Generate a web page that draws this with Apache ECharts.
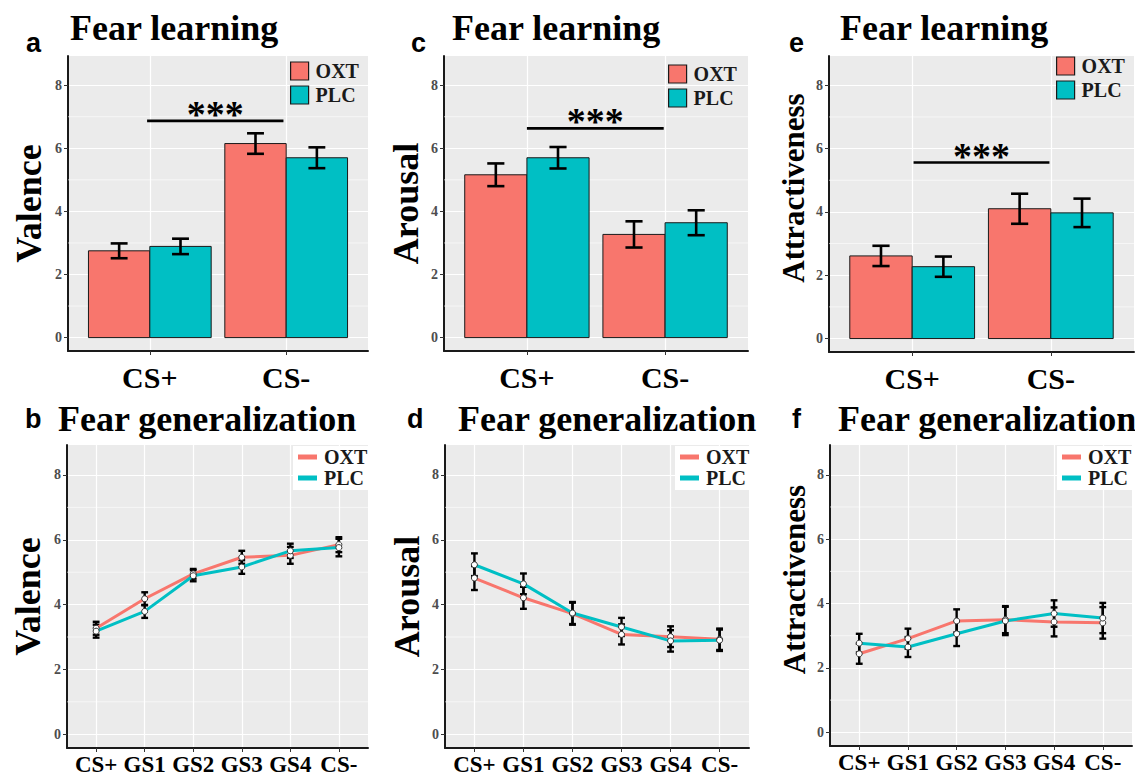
<!DOCTYPE html>
<html><head><meta charset="utf-8">
<script src="https://cdn.jsdelivr.net/npm/echarts@6/dist/echarts.min.js"></script>
<style>html,body{margin:0;padding:0;background:#fff}#c{width:1135px;height:776px}</style>
</head><body><div id="c"></div>
<script>
// ---------- data ----------
const groups = ['OXT', 'PLC'];
const learnCats = ['CS+', 'CS-'];
const genCats = ['CS+', 'GS1', 'GS2', 'GS3', 'GS4', 'CS-'];
const yTicks = [0, 2, 4, 6, 8];
const yMinor = [1, 3, 5, 7];

// Fear learning (bars): means and standard errors
const valLearnOXT = [2.75, 6.15];  const valLearnOXTse = [0.235, 0.325];
const valLearnPLC = [2.89, 5.70];  const valLearnPLCse = [0.245, 0.33];
const aroLearnOXT = [5.16, 3.27];  const aroLearnOXTse = [0.36, 0.415];
const aroLearnPLC = [5.70, 3.64];  const aroLearnPLCse = [0.34, 0.395];
const attLearnOXT = [2.61, 4.10];  const attLearnOXTse = [0.32, 0.475];
const attLearnPLC = [2.27, 3.97];  const attLearnPLCse = [0.32, 0.45];
// significance bars: [x start, x end, y]
const valSig = [0.98, 1.98, 6.87];
const aroSig = [1.00, 1.99, 6.63];
const attSig = [1.01, 1.99, 5.56];

// Fear generalization (lines): means and standard errors
const valGenOXT = [3.27, 4.18, 4.95, 5.46, 5.52, 5.85];
const valGenOXTse = [0.2, 0.2, 0.15, 0.2, 0.26, 0.23];
const valGenPLC = [3.18, 3.79, 4.89, 5.16, 5.66, 5.76];
const valGenPLCse = [0.2, 0.2, 0.17, 0.21, 0.22, 0.27];
const aroGenOXT = [4.82, 4.21, 3.72, 3.08, 3.01, 2.93];
const aroGenOXTse = [0.37, 0.34, 0.34, 0.31, 0.32, 0.33];
const aroGenPLC = [5.23, 4.64, 3.74, 3.31, 2.88, 2.90];
const aroGenPLCse = [0.35, 0.32, 0.34, 0.28, 0.33, 0.33];
const attGenOXT = [2.44, 2.91, 3.46, 3.50, 3.43, 3.40];
const attGenOXTse = [0.31, 0.31, 0.36, 0.42, 0.45, 0.49];
const attGenPLC = [2.77, 2.65, 3.06, 3.46, 3.69, 3.55];
const attGenPLCse = [0.29, 0.31, 0.38, 0.44, 0.41, 0.47];

// ---------- styling / layout ----------
const SERIF = "'Liberation Serif','Times New Roman',serif";
const SANS = "'Liberation Sans',Arial,sans-serif";
const COLORS = { OXT: '#F8766D', PLC: '#00BFC4' };

const panels = [
  { kind: 'bar', letter: 'a', title: 'Fear learning', grid: { left: 68, top: 56, width: 300, height: 295 },
    yName: 'Valence', yNameSize: 36, nameGap: 21, namePad: 0, title_left: 70, letter_left: 26,
    vals: { OXT: valLearnOXT, PLC: valLearnPLC }, ses: { OXT: valLearnOXTse, PLC: valLearnPLCse },
    sig: valSig, legend: { left: 290, top: 61 } },
  { kind: 'bar', letter: 'c', title: 'Fear learning', grid: { left: 444, top: 56, width: 304, height: 295 },
    yName: 'Arousal', yNameSize: 36, nameGap: 20, namePad: 0, title_left: 452, letter_left: 411,
    vals: { OXT: aroLearnOXT, PLC: aroLearnPLC }, ses: { OXT: aroLearnOXTse, PLC: aroLearnPLCse },
    sig: aroSig, legend: { left: 668, top: 64 } },
  { kind: 'bar', letter: 'e', title: 'Fear learning', grid: { left: 829, top: 56, width: 305, height: 296 },
    yName: 'Attractiveness', yNameSize: 31, nameGap: 20, namePad: 32, title_left: 840, letter_left: 789,
    vals: { OXT: attLearnOXT, PLC: attLearnPLC }, ses: { OXT: attLearnOXTse, PLC: attLearnPLCse },
    sig: attSig, legend: { left: 1056, top: 56 } },
  { kind: 'line', letter: 'b', title: 'Fear generalization', grid: { left: 67, top: 445, width: 301, height: 303 },
    yName: 'Valence', yNameSize: 36, nameGap: 21, namePad: 0, title_left: 58, letter_left: 25,
    vals: { OXT: valGenOXT, PLC: valGenPLC }, ses: { OXT: valGenOXTse, PLC: valGenPLCse },
    legend: { left: 293, top: 446 } },
  { kind: 'line', letter: 'd', title: 'Fear generalization', grid: { left: 445, top: 445, width: 304, height: 303 },
    yName: 'Arousal', yNameSize: 36, nameGap: 20, namePad: 0, title_left: 458, letter_left: 407,
    vals: { OXT: aroGenOXT, PLC: aroGenPLC }, ses: { OXT: aroGenOXTse, PLC: aroGenPLCse },
    legend: { left: 675, top: 446 } },
  { kind: 'line', letter: 'f', title: 'Fear generalization', grid: { left: 830, top: 445, width: 302, height: 301 },
    yName: 'Attractiveness', yNameSize: 31, nameGap: 20, namePad: 32, title_left: 838, letter_left: 792,
    vals: { OXT: attGenOXT, PLC: attGenPLC }, ses: { OXT: attGenOXTse, PLC: attGenPLCse },
    legend: { left: 1057, top: 446 } }
];

const BAR_W = 0.45;      // each dodged bar width (x units)
const CAP_BAR = 0.062;   // half cap width, bar panels
const CAP_LINE = 0.07;   // half cap width, line panels

function errorChildren(api, xc, v, se, cap, lw) {
  const top = api.coord([xc, v + se]);
  const bot = api.coord([xc, v - se]);
  const cl = api.coord([xc - cap, 0])[0];
  const cr = api.coord([xc + cap, 0])[0];
  const st = { stroke: '#000', lineWidth: lw };
  return [
    { type: 'line', shape: { x1: top[0], y1: top[1], x2: bot[0], y2: bot[1] }, style: st },
    { type: 'line', shape: { x1: cl, y1: top[1], x2: cr, y2: top[1] }, style: st },
    { type: 'line', shape: { x1: cl, y1: bot[1], x2: cr, y2: bot[1] }, style: st }
  ];
}

function barRender(side, color) {
  return function (params, api) {
    const x = api.value(0), v = api.value(1), se = api.value(2);
    const xl = side < 0 ? x - BAR_W : x;
    const xr = side < 0 ? x : x + BAR_W;
    const p0 = api.coord([xl, v]);
    const p1 = api.coord([xr, 0]);
    const xc = (xl + xr) / 2;
    return {
      type: 'group',
      children: [
        { type: 'rect', shape: { x: p0[0], y: p0[1], width: p1[0] - p0[0], height: p1[1] - p0[1] },
          style: { fill: color, stroke: '#1a1a1a', lineWidth: 1 } }
      ].concat(errorChildren(api, xc, v, se, CAP_BAR, 2.6))
    };
  };
}

function errRender(params, api) {
  return { type: 'group', children: errorChildren(api, api.value(0), api.value(1), api.value(2), CAP_LINE, 2.4) };
}

function minorRender(params, api) {
  const cs = params.coordSys;
  const y = api.coord([1, api.value(1)])[1];
  return { type: 'line', shape: { x1: cs.x, y1: y, x2: cs.x + cs.width, y2: y },
           style: { stroke: '#ffffff', lineWidth: 0.6 } };
}

function sigRender(params, api) {
  const a = api.coord([api.value(0), api.value(2)]);
  const b = api.coord([api.value(1), api.value(2)]);
  return {
    type: 'group',
    children: [
      { type: 'line', shape: { x1: a[0], y1: a[1], x2: b[0], y2: b[1] }, style: { stroke: '#000', lineWidth: 2.6 } },
      { type: 'text', x: (a[0] + b[0]) / 2, y: a[1] - 7,
        style: { text: '***', fontFamily: SERIF, fontWeight: 'bold', fontSize: 38, fill: '#000', align: 'center', verticalAlign: 'middle' } }
    ]
  };
}

const option = {
  animation: false,
  backgroundColor: '#ffffff',
  title: [], grid: [], xAxis: [], yAxis: [], legend: [], series: []
};

panels.forEach((p, i) => {
  const isBar = p.kind === 'bar';
  const cats = isBar ? learnCats : genCats;
  const xTicks = cats.map((_, k) => k + 1);

  option.title.push({
    text: p.title, left: p.title_left, top: isBar ? 10 : 401, padding: 0,
    textStyle: { fontFamily: SERIF, fontWeight: 'bold', fontSize: 36, color: '#000' }
  });
  option.title.push({
    text: p.letter, left: p.letter_left, top: isBar ? 29 : 405, padding: 0,
    textStyle: { fontFamily: SANS, fontWeight: 'bold', fontSize: 27, color: '#000' }
  });

  option.grid.push(Object.assign({ show: true, backgroundColor: '#EBEBEB', borderWidth: 0, containLabel: false }, p.grid));

  option.xAxis.push({
    type: 'value', gridIndex: i, min: 0.4, max: cats.length + 0.6,
    axisLine: { show: true, onZero: false, lineStyle: { color: '#1a1a1a', width: 2 } },
    axisTick: { show: true, customValues: xTicks, length: 4, lineStyle: { color: '#333', width: 1 } },
    axisLabel: { show: true, customValues: xTicks, formatter: (v) => cats[Math.round(v) - 1],
      margin: isBar ? 11 : 5, fontFamily: SERIF, fontWeight: 'bold', fontSize: isBar ? 30 : 23, color: '#000' },
    splitLine: { show: true, lineStyle: { color: '#ffffff', width: 1.2 } }
  });

  option.yAxis.push({
    type: 'value', gridIndex: i, min: -0.425, max: 8.925,
    name: p.yName, nameLocation: 'middle', nameGap: p.nameGap, nameRotate: 90,
    nameTextStyle: { fontFamily: SERIF, fontWeight: 'bold', fontSize: p.yNameSize, color: '#000',
      padding: [0, 0, 0, p.namePad] },
    axisLine: { show: true, onZero: false, lineStyle: { color: '#1a1a1a', width: 2 } },
    axisTick: { show: true, customValues: yTicks, length: 4, lineStyle: { color: '#333', width: 1 } },
    axisLabel: { show: true, customValues: yTicks, margin: 6, fontFamily: SERIF, fontWeight: 'bold', fontSize: 14, color: '#4D4D4D' },
    splitLine: { show: true, lineStyle: { color: '#ffffff', width: 1.2 } }
  });

  option.series.push({
    type: 'custom', xAxisIndex: i, yAxisIndex: i, silent: true, z: 1,
    data: yMinor.map(v => [1, v]), renderItem: minorRender
  });

  if (isBar) {
    groups.forEach((g, gi) => {
      option.series.push({
        name: g, type: 'custom', xAxisIndex: i, yAxisIndex: i, z: 3,
        itemStyle: { color: COLORS[g] },
        data: p.vals[g].map((v, k) => [k + 1, v, p.ses[g][k]]),
        renderItem: barRender(gi === 0 ? -1 : 1, COLORS[g])
      });
    });
    option.series.push({
      type: 'custom', xAxisIndex: i, yAxisIndex: i, z: 4, silent: true,
      data: [p.sig], renderItem: sigRender
    });
    option.legend.push({
      orient: 'vertical', left: p.legend.left, top: p.legend.top, padding: 0, itemGap: 4,
      itemWidth: 18, itemHeight: 18, selectedMode: false,
      textStyle: { fontFamily: SERIF, fontWeight: 'bold', fontSize: 20, color: '#1a1a1a', padding: [0, 0, 0, 2] },
      data: groups.map(g => ({ name: g, icon: 'rect', itemStyle: { color: COLORS[g], borderColor: '#1a1a1a', borderWidth: 1.2 } }))
    });
  } else {
    groups.forEach((g) => {
      option.series.push({
        name: g, type: 'custom', xAxisIndex: i, yAxisIndex: i, z: 3, silent: true,
        itemStyle: { color: COLORS[g] },
        data: p.vals[g].map((v, k) => [k + 1, v, p.ses[g][k]]),
        renderItem: errRender
      });
    });
    groups.forEach((g) => {
      option.series.push({
        name: g, type: 'line', xAxisIndex: i, yAxisIndex: i, z: 4,
        data: p.vals[g].map((v, k) => [k + 1, v]),
        symbol: 'circle', symbolSize: 6, showSymbol: true,
        itemStyle: { color: '#ffffff', borderColor: '#333', borderWidth: 1 },
        lineStyle: { color: COLORS[g], width: 3 },
        emphasis: { disabled: true }
      });
    });
    option.legend.push({
      orient: 'vertical', left: p.legend.left, top: p.legend.top, padding: [1, 3, 2, 5], itemGap: 1,
      itemWidth: 19, itemHeight: 5, selectedMode: false, backgroundColor: '#ffffff',
      textStyle: { fontFamily: SERIF, fontWeight: 'bold', fontSize: 20, color: '#1a1a1a', padding: [0, 0, 0, 2] },
      data: groups.map(g => ({ name: g, icon: 'rect', itemStyle: { color: COLORS[g], borderWidth: 0 } }))
    });
  }
});

const chart = echarts.init(document.getElementById('c'), null, { renderer: 'svg' });
chart.setOption(option);
</script>
</body></html>
